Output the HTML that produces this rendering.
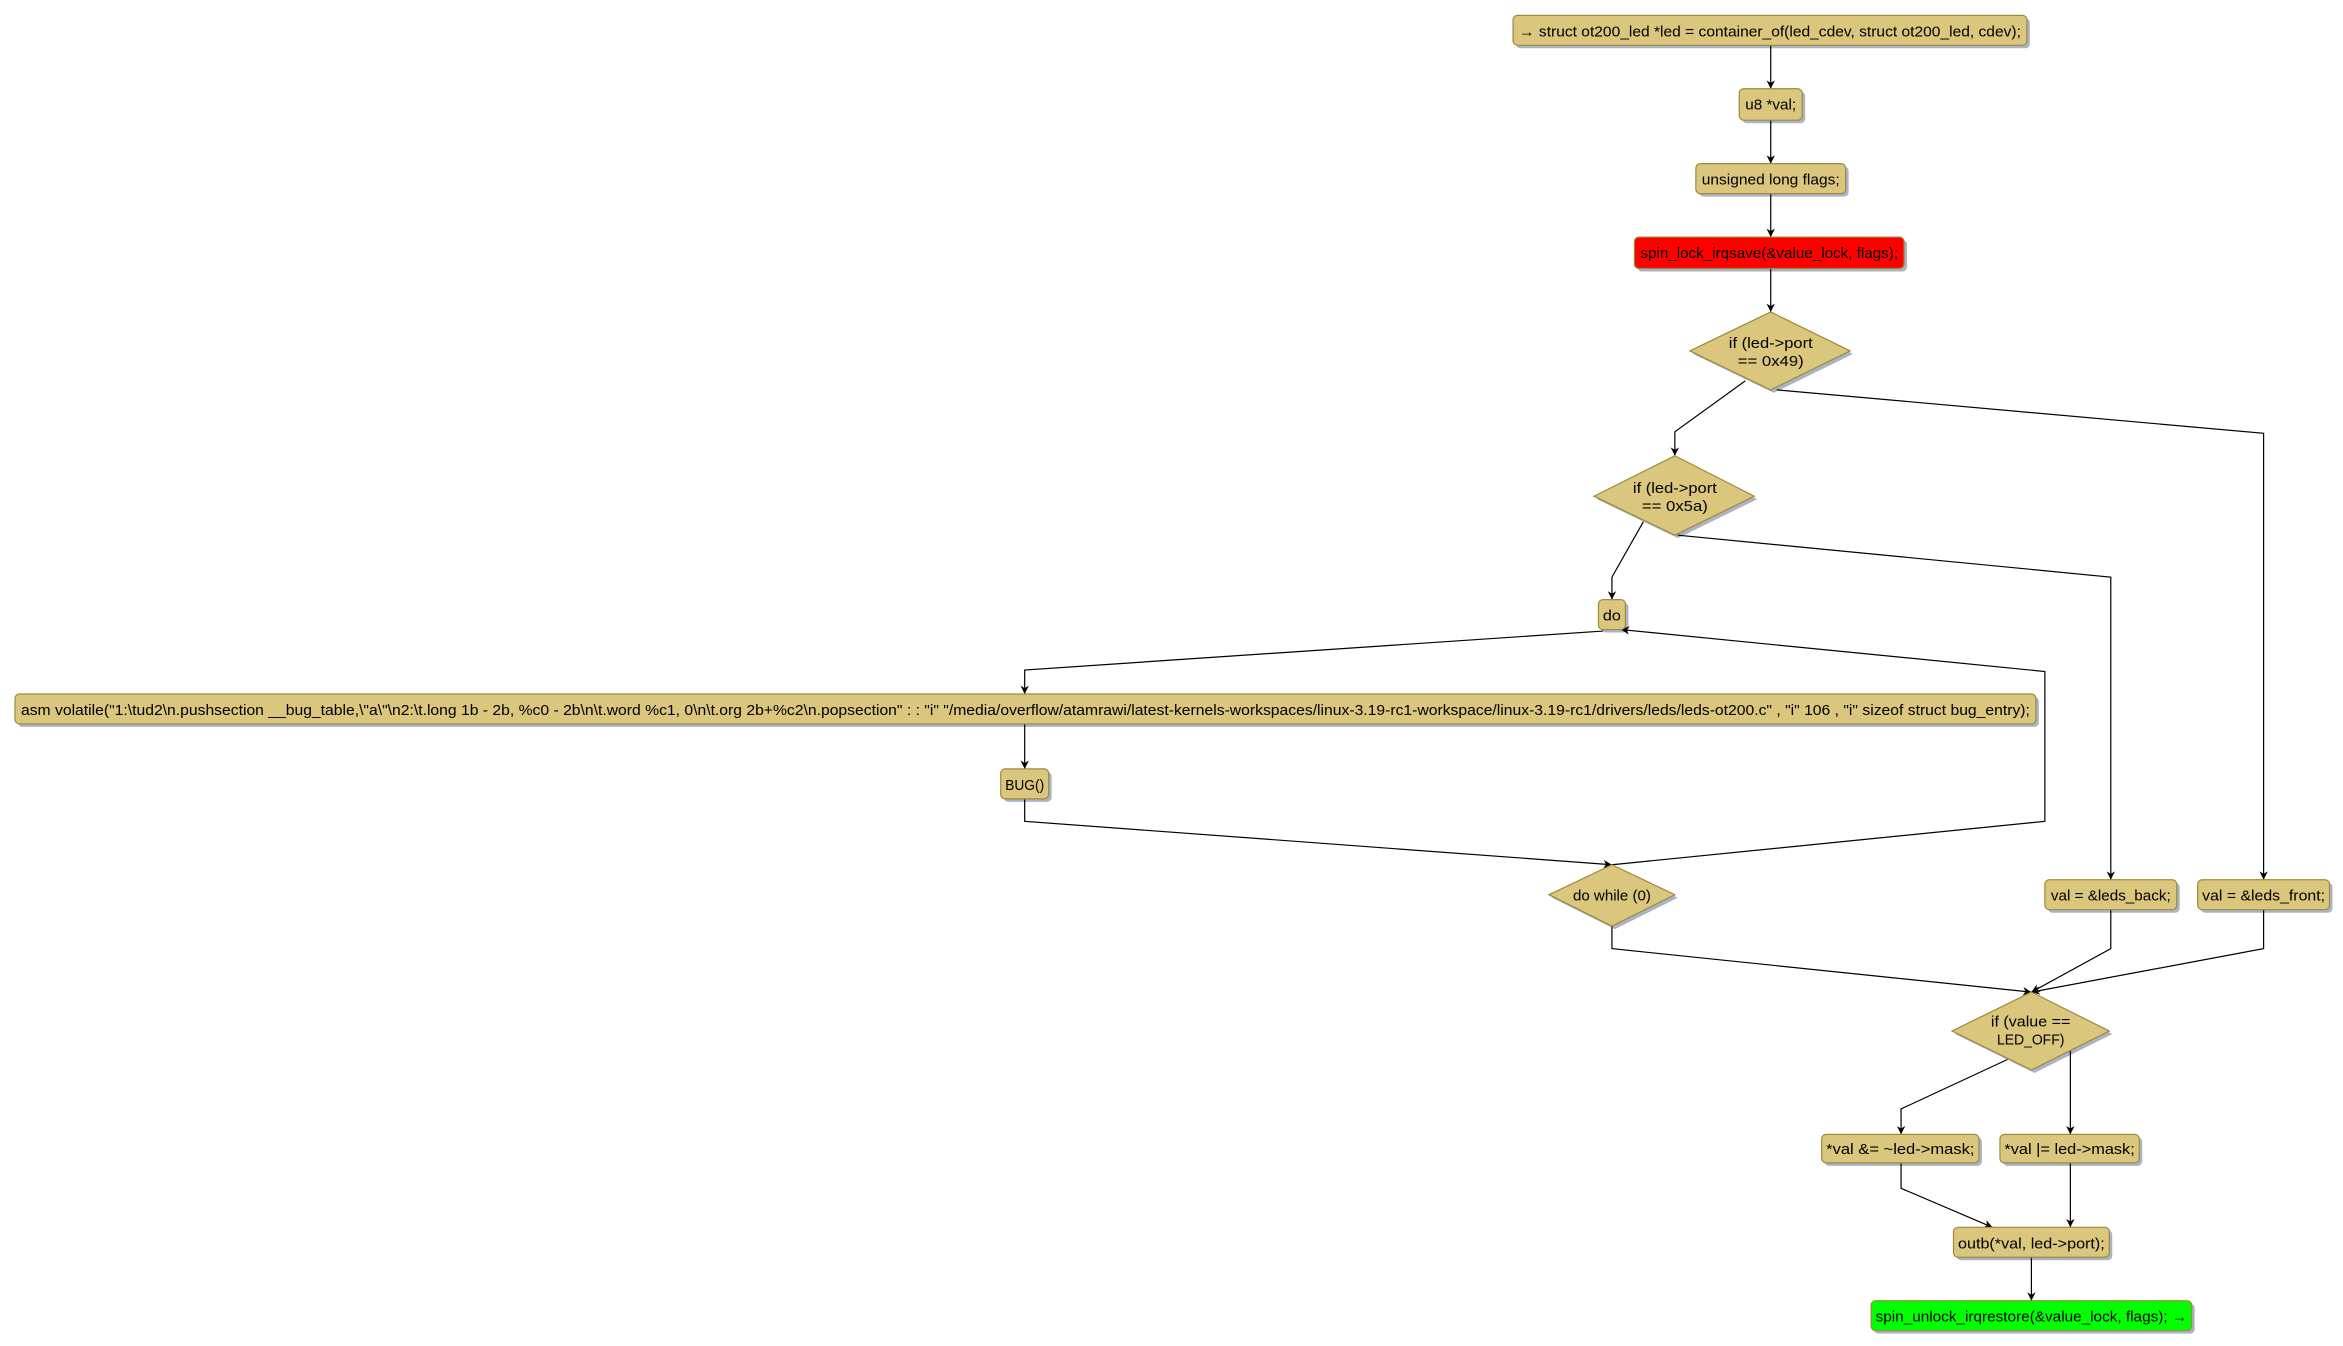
<!DOCTYPE html>
<html><head><meta charset="utf-8"><style>
html,body{margin:0;padding:0;background:#fff;}
svg{display:block;}
text{font-family:"Liberation Sans","DejaVu Sans",sans-serif;font-size:10px;fill:#000;}
.b{fill:#DBC67D;stroke:#9E8A3C;stroke-width:0.8;}
.s{fill:#A9B4C6;}
.l{stroke:#000;stroke-width:0.8;fill:none;}
</style></head><body>
<svg width="2343" height="1346" viewBox="0 0 1564 898" xmlns="http://www.w3.org/2000/svg">
<defs>
<marker id="ar" viewBox="0 0 10 10" refX="10" refY="5" markerWidth="7" markerHeight="7" orient="auto-start-reverse"><path d="M0,0 L10,5 L0,10 L3,5 z" fill="#000"/></marker>
</defs>
<g class="s">
<rect x="1012" y="12" width="343" height="20" rx="3"/>
<rect x="1163" y="61" width="42" height="21" rx="3"/>
<rect x="1134" y="111" width="100" height="20" rx="3"/>
<rect x="1093" y="160" width="180" height="21" rx="3"/>
<polygon points="1130,236 1184,210 1237,236 1184,262"/>
<polygon points="1066,333 1120,306 1173,333 1120,359"/>
<rect x="1069" y="402" width="18" height="20" rx="3"/>
<rect x="12" y="465" width="1349" height="20" rx="3"/>
<rect x="670" y="515" width="32" height="20" rx="3"/>
<polygon points="1036,599 1078,579 1120,599 1078,620"/>
<rect x="1367" y="589" width="88" height="20" rx="3"/>
<rect x="1469" y="589" width="88" height="20" rx="3"/>
<polygon points="1305,690 1358,664 1410,690 1358,716"/>
<rect x="1218" y="759" width="105" height="19" rx="3"/>
<rect x="1337" y="759" width="93" height="19" rx="3"/>
<rect x="1306" y="821" width="104" height="20" rx="3"/>
<rect x="1251" y="870" width="214" height="20" rx="3"/>
</g>
<g class="l">
<path d="M1182,30 V59" marker-end="url(#ar)"/>
<path d="M1182,80 V109" marker-end="url(#ar)"/>
<path d="M1182,129 V158" marker-end="url(#ar)"/>
<path d="M1182,179 V208" marker-end="url(#ar)"/>
<path d="M1165,254 L1118,288 V304" marker-end="url(#ar)"/>
<path d="M1186,260 L1511,289 V587" marker-end="url(#ar)"/>
<path d="M1097,348 L1076,385 V400" marker-end="url(#ar)"/>
<path d="M1120,357 L1409,385 V587" marker-end="url(#ar)"/>
<path d="M1070,421 L684,447 V463" marker-end="url(#ar)"/>
<path d="M684,483 V513" marker-end="url(#ar)"/>
<path d="M684,533 V548 L1076,577" marker-end="url(#ar)"/>
<path d="M1076,577 L1365,548 V448 L1082,420" marker-end="url(#ar)"/>
<path d="M1076,618 V633 L1356,662" marker-end="url(#ar)"/>
<path d="M1409,607 V633 L1356,662" marker-end="url(#ar)"/>
<path d="M1511,607 V633 L1356,662" marker-end="url(#ar)"/>
<path d="M1340,707 L1269,740 V757" marker-end="url(#ar)"/>
<path d="M1382,700 V757" marker-end="url(#ar)"/>
<path d="M1269,776 V793 L1330,819" marker-end="url(#ar)"/>
<path d="M1382,776 V819" marker-end="url(#ar)"/>
<path d="M1356,839 V868" marker-end="url(#ar)"/>
</g>
<rect class="b" x="1010" y="10" width="343" height="20" rx="3"/>
<text x="1014" y="24" textLength="335" lengthAdjust="spacingAndGlyphs">→ struct ot200_led *led = container_of(led_cdev, struct ot200_led, cdev);</text>
<rect class="b" x="1161" y="59" width="42" height="21" rx="3"/>
<text x="1165" y="73" textLength="34" lengthAdjust="spacingAndGlyphs">u8 *val;</text>
<rect class="b" x="1132" y="109" width="100" height="20" rx="3"/>
<text x="1136" y="123" textLength="92" lengthAdjust="spacingAndGlyphs">unsigned long flags;</text>
<rect x="1091" y="158" width="180" height="21" rx="3" fill="#FF0000" stroke="#9E8A3C" stroke-width="0.8"/>
<text x="1095" y="172" textLength="172" lengthAdjust="spacingAndGlyphs">spin_lock_irqsave(&amp;value_lock, flags);</text>
<polygon class="b" points="1128,234 1182,208 1235,234 1182,260"/>
<text x="1154" y="232" textLength="56" lengthAdjust="spacingAndGlyphs">if (led-&gt;port</text>
<text x="1160" y="244" textLength="44" lengthAdjust="spacingAndGlyphs">== 0x49)</text>
<polygon class="b" points="1064,331 1118,304 1171,331 1118,357"/>
<text x="1090" y="329" textLength="56" lengthAdjust="spacingAndGlyphs">if (led-&gt;port</text>
<text x="1096" y="341" textLength="44" lengthAdjust="spacingAndGlyphs">== 0x5a)</text>
<rect class="b" x="1067" y="400" width="18" height="20" rx="3"/>
<text x="1070" y="414" textLength="12" lengthAdjust="spacingAndGlyphs">do</text>
<rect class="b" x="10" y="463" width="1349" height="20" rx="3"/>
<text x="14" y="477" textLength="1341" lengthAdjust="spacingAndGlyphs">asm volatile("1:\tud2\n.pushsection __bug_table,\"a\"\n2:\t.long 1b - 2b, %c0 - 2b\n\t.word %c1, 0\n\t.org 2b+%c2\n.popsection" : : "i" "/media/overflow/atamrawi/latest-kernels-workspaces/linux-3.19-rc1-workspace/linux-3.19-rc1/drivers/leds/leds-ot200.c" , "i" 106 , "i" sizeof struct bug_entry);</text>
<rect class="b" x="668" y="513" width="32" height="20" rx="3"/>
<text x="671" y="527" textLength="26" lengthAdjust="spacingAndGlyphs">BUG()</text>
<polygon class="b" points="1034,597 1076,577 1118,597 1076,618"/>
<text x="1050" y="601" textLength="52" lengthAdjust="spacingAndGlyphs">do while (0)</text>
<rect class="b" x="1365" y="587" width="88" height="20" rx="3"/>
<text x="1369" y="601" textLength="80" lengthAdjust="spacingAndGlyphs">val = &amp;leds_back;</text>
<rect class="b" x="1467" y="587" width="88" height="20" rx="3"/>
<text x="1470" y="601" textLength="82" lengthAdjust="spacingAndGlyphs">val = &amp;leds_front;</text>
<polygon class="b" points="1303,688 1356,662 1408,688 1356,714"/>
<text x="1329" y="685" textLength="53" lengthAdjust="spacingAndGlyphs">if (value ==</text>
<text x="1333" y="697" textLength="45" lengthAdjust="spacingAndGlyphs">LED_OFF)</text>
<rect class="b" x="1216" y="757" width="105" height="19" rx="3"/>
<text x="1219" y="770" textLength="99" lengthAdjust="spacingAndGlyphs">*val &amp;= ~led-&gt;mask;</text>
<rect class="b" x="1335" y="757" width="93" height="19" rx="3"/>
<text x="1338" y="770" textLength="87" lengthAdjust="spacingAndGlyphs">*val |= led-&gt;mask;</text>
<rect class="b" x="1304" y="819" width="104" height="20" rx="3"/>
<text x="1307" y="833" textLength="98" lengthAdjust="spacingAndGlyphs">outb(*val, led-&gt;port);</text>
<rect x="1249" y="868" width="214" height="20" rx="3" fill="#00FF00" stroke="#9E8A3C" stroke-width="0.8"/>
<text x="1252" y="882" textLength="208" lengthAdjust="spacingAndGlyphs">spin_unlock_irqrestore(&amp;value_lock, flags); →</text>
</svg>
</body></html>
